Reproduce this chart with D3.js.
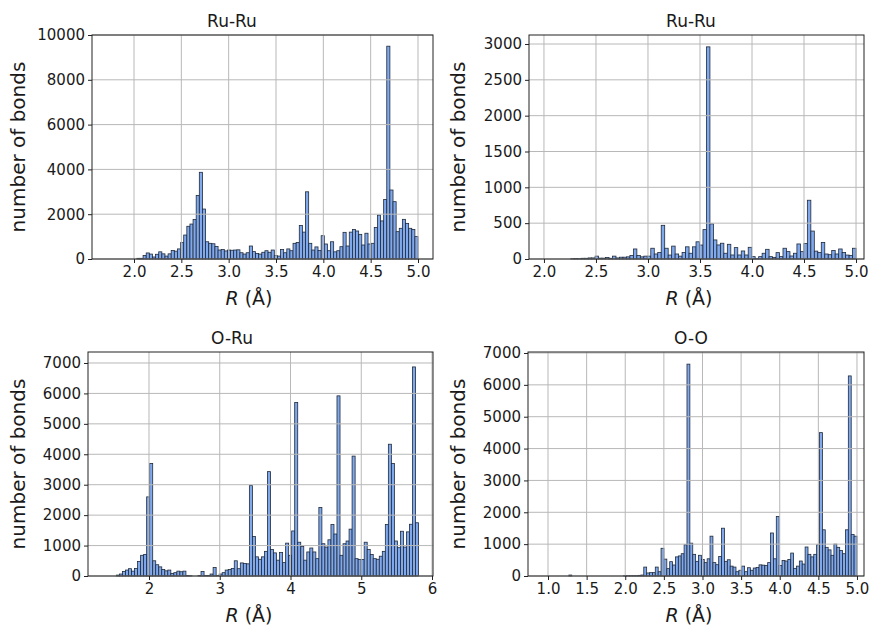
<!DOCTYPE html>
<html><head><meta charset="utf-8">
<script src="https://cdn.jsdelivr.net/npm/d3@7"></script>
<style>
body{margin:0;background:#fff}
text{font-family:"DejaVu Sans",sans-serif;fill:#1a1a1a}
</style>
</head><body>
<svg id="chart" width="873" height="628"></svg>
<script>
// ---------- DATA ----------
// Panel 1: Ru-Ru (top left) – 100 bins starting at 1.7 Å
const ruRuAStart = 1.7, ruRuAWidth = 0.033;
const ruRuACounts = [
  0,0,0,0,0,0,0,0,0,0,
  30,30,160,270,220,90,210,320,230,130,
  230,380,350,450,730,1070,1460,1560,1760,2840,
  3870,2230,770,700,680,560,400,420,360,400,
  390,400,410,280,220,280,580,330,250,220,
  300,370,300,400,150,130,420,280,450,370,
  700,740,1500,1200,3000,700,400,540,380,1040,
  670,370,770,320,370,550,1190,580,1200,1320,
  1250,1100,625,1150,670,700,1410,1960,1700,2660,
  9500,3080,2560,1220,1370,1770,1590,1370,1320,1000
];
// Panel 2: Ru-Ru (top right) – 90 bins starting at 1.99 Å
const ruRuBStart = 1.99, ruRuBWidth = 0.03345;
const ruRuBCounts = [
  0,0,0,0,0,0,0,0,
  5,8,5,10,10,15,15,40,12,12,
  20,10,40,15,25,25,30,50,140,50,
  30,40,40,150,70,90,470,150,55,180,
  70,40,90,170,80,170,240,195,410,2960,
  490,266,196,220,80,205,56,159,56,112,
  56,163,33,5,33,80,135,33,23,89,
  33,150,103,42,80,210,103,215,820,390,
  110,90,230,70,60,120,70,140,90,55,
  50,150
];
// Panel 3: O-Ru – 100 bins starting at 1.54 Å
const oRuStart = 1.54, oRuWidth = 0.0427;
const oRuCounts = [
  30,65,150,195,240,160,250,475,680,710,
  2600,3700,500,370,300,215,170,195,85,110,
  160,140,160,20,10,0,0,20,150,20,
  20,65,280,20,65,110,195,215,250,500,
  240,430,410,400,2970,1300,630,550,630,810,
  3430,870,760,520,770,440,1080,680,1480,5700,
  1110,970,520,790,920,790,570,2250,1060,950,
  1190,1690,1380,5920,680,1060,1150,1540,3940,570,
  540,540,1110,870,710,570,550,650,810,1690,
  4330,3700,1150,930,1470,950,1450,1700,6870,1750
];
// Panel 4: O-O – 100 bins starting at 1.27 Å
const ooStart = 1.27, ooWidth = 0.0373;
const ooCounts = [
  30,0,0,0,0,0,0,0,0,0,
  0,0,0,0,0,0,0,0,0,10,
  10,10,10,10,20,30,280,95,105,105,
  280,135,870,530,230,450,345,600,630,700,
  980,6650,1030,680,460,650,520,420,540,1250,
  420,355,615,1500,460,510,310,280,135,180,
  310,135,260,180,250,270,350,340,330,420,
  1350,540,1870,330,490,470,520,720,240,310,
  470,375,910,680,600,680,980,4500,1450,900,
  820,650,1000,900,800,700,1450,6280,1300,1250
];
// Tick values
const xTicksHalf = [2.0,2.5,3.0,3.5,4.0,4.5,5.0];
const xTicksORu = [2,3,4,5,6];
const xTicksOO = [1.0,1.5,2.0,2.5,3.0,3.5,4.0,4.5,5.0];
const yTicksA = [0,2000,4000,6000,8000,10000];
const yTicksB = [0,500,1000,1500,2000,2500,3000];
const yTicks7k = [0,1000,2000,3000,4000,5000,6000,7000];
const titles = ["Ru-Ru","Ru-Ru","O-Ru","O-O"];

// ---------- LAYOUT ----------
const panels = [
  {title:titles[0], start:ruRuAStart, width:ruRuAWidth, counts:ruRuACounts,
   box:{l:92,r:433,t:35,b:259}, xDom:[1.5563,5.1584], yDom:[0,10000],
   xTicks:xTicksHalf, xFmt:d3.format(".1f"), yTicks:yTicksA, ylabX:19, titleX:232, xlabX:249},
  {title:titles[1], start:ruRuBStart, width:ruRuBWidth, counts:ruRuBCounts,
   box:{l:529,r:864,t:35,b:259}, xDom:[1.8562,5.0767], yDom:[0,3125.6],
   xTicks:xTicksHalf, xFmt:d3.format(".1f"), yTicks:yTicksB, ylabX:459, titleX:691, xlabX:689},
  {title:titles[2], start:oRuStart, width:oRuWidth, counts:oRuCounts,
   box:{l:88,r:433,t:352,b:576}, xDom:[1.138,6.014], yDom:[0,7361],
   xTicks:xTicksORu, xFmt:d3.format("d"), yTicks:yTicks7k, ylabX:19, titleX:232, xlabX:249},
  {title:titles[3], start:ooStart, width:ooWidth, counts:ooCounts,
   box:{l:528,r:864,t:352,b:576}, xDom:[0.741,5.091], yDom:[0,7031],
   xTicks:xTicksOO, xFmt:d3.format(".1f"), yTicks:yTicks7k, ylabX:459, titleX:691, xlabX:689}
];

const svg = d3.select("#chart");
svg.append("rect").attr("width",873).attr("height",628).attr("fill","#fff");

panels.forEach(p => {
  const {l,r,t,b} = p.box;
  const x = d3.scaleLinear().domain(p.xDom).range([l,r]);
  const y = d3.scaleLinear().domain(p.yDom).range([b,t]);
  const g = svg.append("g");

  const bins = p.counts.map((c,i) => ({x0:p.start+i*p.width, x1:p.start+(i+1)*p.width, c}));

  g.append("g").selectAll("rect").data(bins).join("rect")
    .attr("x", d => x(d.x0))
    .attr("width", d => x(d.x1)-x(d.x0))
    .attr("y", d => y(d.c))
    .attr("height", d => y(0)-y(d.c))
    .attr("fill","#80a8ec")
    .attr("stroke","#1f2a3a")
    .attr("stroke-width",0.8);

  const grid = g.append("g").attr("stroke","#b8b8b8").attr("stroke-width",1);
  grid.selectAll("line.v").data(p.xTicks).join("line").attr("class","v")
    .attr("x1",d=>x(d)).attr("x2",d=>x(d)).attr("y1",t).attr("y2",b);
  grid.selectAll("line.h").data(p.yTicks).join("line").attr("class","h")
    .attr("x1",l).attr("x2",r).attr("y1",d=>y(d)).attr("y2",d=>y(d));

  const ax = g.append("g").attr("transform",`translate(0,${b})`)
    .call(d3.axisBottom(x).tickValues(p.xTicks).tickFormat(p.xFmt).tickSize(4).tickPadding(3));
  const ay = g.append("g").attr("transform",`translate(${l},0)`)
    .call(d3.axisLeft(y).tickValues(p.yTicks).tickFormat(d3.format("d")).tickSize(4).tickPadding(3));
  [ax,ay].forEach(a => {
    a.select(".domain").remove();
    a.selectAll(".tick line").attr("stroke","#222").attr("stroke-width",1);
    a.selectAll(".tick text").attr("font-size",15).attr("fill","#1a1a1a")
      .attr("font-family","DejaVu Sans");
  });

  g.append("rect").attr("x",l).attr("y",t).attr("width",r-l).attr("height",b-t)
    .attr("fill","none").attr("stroke","#222").attr("stroke-width",1);

  g.append("text").attr("x",p.titleX).attr("y",t-8).attr("text-anchor","middle")
    .attr("font-size",17).text(p.title);

  const xl = g.append("text").attr("x",p.xlabX).attr("y",b+46).attr("text-anchor","middle")
    .attr("font-size",19);
  xl.append("tspan").attr("font-style","italic").text("R");
  xl.append("tspan").text(" (Å)");

  g.append("text").attr("transform",`translate(${p.ylabX},${(t+b)/2}) rotate(-90)`)
    .attr("text-anchor","middle").attr("dominant-baseline","middle")
    .attr("font-size",20).text("number of bonds");
});
</script>
</body></html>
